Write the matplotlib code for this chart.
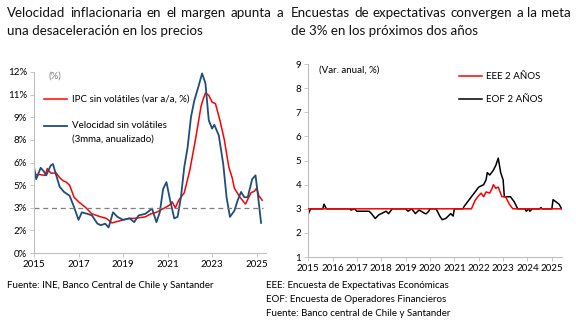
import matplotlib
matplotlib.use("Agg")
from matplotlib import pyplot as plt
import numpy as np

plt.rcParams['font.family'] = ['Lato', 'DejaVu Sans']

# ---- left panel data (decimal year, % in axis units)
ipc_x = [2015.0, 2015.25, 2015.5, 2015.6, 2015.75, 2016.0, 2016.15, 2016.3, 2016.45, 2016.6,
         2016.8, 2017.0, 2017.3, 2017.6, 2017.8, 2018.0, 2018.25, 2018.5, 2018.75, 2019.0,
         2019.25, 2019.5, 2019.75, 2020.0, 2020.25, 2020.5, 2020.75, 2021.0, 2021.1, 2021.2,
         2021.35, 2021.5, 2021.75, 2022.0, 2022.25, 2022.5, 2022.6, 2022.7, 2022.85, 2023.0,
         2023.15, 2023.35, 2023.55, 2023.75, 2023.9, 2024.0, 2024.25, 2024.5, 2024.75, 2024.9,
         2025.0, 2025.1, 2025.25]
ipc_y = [5.2, 5.2, 5.15, 5.6, 5.3, 5.3, 5.0, 4.8, 4.7, 4.5,
         3.7, 3.4, 3.05, 2.6, 2.5, 2.4, 2.3, 2.0, 2.1, 2.2,
         2.3, 2.3, 2.35, 2.4, 2.6, 2.7, 2.9, 3.1, 3.2, 3.4,
         3.0, 3.5, 4.0, 5.5, 7.5, 9.7, 10.2, 10.6, 10.45, 10.0,
         9.9, 8.8, 7.5, 5.7, 5.0, 4.3, 3.7, 3.25, 4.0, 4.1,
         4.3, 3.8, 3.5]

vel_x = [2015.0, 2015.1, 2015.3, 2015.45, 2015.55, 2015.75, 2015.85, 2016.0, 2016.15, 2016.35,
         2016.6, 2016.8, 2017.0, 2017.15, 2017.4, 2017.6, 2017.85, 2018.0, 2018.2, 2018.35,
         2018.55, 2018.75, 2019.0, 2019.3, 2019.5, 2019.7, 2020.0, 2020.3, 2020.5, 2020.65,
         2020.8, 2020.95, 2021.1, 2021.3, 2021.45, 2021.6, 2021.75, 2021.9, 2022.05, 2022.2,
         2022.4, 2022.55, 2022.7, 2022.85, 2023.0, 2023.1, 2023.3, 2023.5, 2023.65, 2023.8,
         2024.0, 2024.15, 2024.3, 2024.45, 2024.6, 2024.8, 2024.95, 2025.05, 2025.2]
vel_y = [5.7, 4.9, 5.65, 5.4, 5.15, 5.8, 5.9, 5.15, 4.4, 4.05,
         3.8, 3.05, 2.2, 2.7, 2.6, 2.5, 1.95, 1.85, 1.95, 1.7,
         2.7, 2.4, 2.2, 2.3, 2.05, 2.5, 2.6, 2.95, 2.05, 2.7,
         4.25, 4.7, 3.6, 2.3, 2.4, 3.7, 5.7, 7.0, 9.0, 10.1,
         11.1, 11.9, 11.25, 8.8, 8.25, 8.5, 7.8, 5.9, 3.7, 2.4,
         2.8, 3.5, 4.05, 3.7, 3.7, 4.9, 5.15, 3.95, 2.0]

left_yticks = [0, 1.5, 3, 4.5, 6, 7.5, 9, 10.5, 12]
left_ylabels = ['0%', '2%', '3%', '5%', '6%', '8%', '9%', '11%', '12%']
left_years = [2015, 2017, 2019, 2021, 2023, 2025]

# ---- right panel data (decimal year, %)
eof_x = [2015.0, 2015.1, 2015.6, 2015.65, 2015.75, 2016.7, 2016.75, 2016.9, 2017.0, 2017.5,
         2017.6, 2017.75, 2017.9, 2018.0, 2018.2, 2018.3, 2018.45, 2019.0, 2019.1, 2019.25,
         2019.4, 2019.55, 2019.8, 2019.85, 2019.95, 2020.0, 2020.25, 2020.4, 2020.5, 2020.65,
         2020.85, 2020.95, 2021.0, 2021.35, 2021.4, 2021.55, 2021.7, 2021.85, 2022.0, 2022.2,
         2022.3, 2022.35, 2022.45, 2022.6, 2022.7, 2022.8, 2022.9, 2023.0, 2023.05, 2023.3,
         2023.45, 2023.6, 2023.9, 2023.95, 2024.05, 2024.1, 2024.2, 2024.5, 2024.55, 2024.6,
         2025.0, 2025.05, 2025.3, 2025.4]
eof_y = [2.77, 3.0, 3.0, 3.19, 3.0, 3.0, 2.95, 3.0, 2.9, 2.9,
         2.8, 2.6, 2.75, 2.8, 2.9, 2.8, 3.0, 3.0, 2.9, 3.0,
         2.8, 2.95, 2.8, 2.8, 2.9, 3.0, 3.0, 2.7, 2.55, 2.6,
         2.8, 2.7, 3.0, 3.0, 3.1, 3.3, 3.5, 3.7, 3.9, 4.0,
         4.2, 4.5, 4.4, 4.6, 4.8, 5.1, 4.5, 4.2, 3.5, 3.5,
         3.3, 3.0, 3.0, 2.9, 3.0, 2.9, 3.0, 3.0, 3.05, 3.0,
         3.0, 3.38, 3.19, 3.0]

eee_x = [2015.0, 2021.7, 2021.85, 2022.0, 2022.1, 2022.2, 2022.3, 2022.45, 2022.55, 2022.6,
         2022.7, 2022.8, 2022.95, 2023.1, 2023.25, 2023.4, 2025.4]
eee_y = [3.0, 3.0, 3.35, 3.55, 3.65, 3.5, 3.7, 3.65, 3.85, 4.0,
         3.85, 3.9, 3.5, 3.5, 3.2, 3.0, 3.0]

right_years = list(range(2015, 2026))

W, H = 576, 330
fig = plt.figure(figsize=(W / 100, H / 100), dpi=100)
renderer = fig.canvas.get_renderer()

def style(ax):
    for s in ['top', 'right']:
        ax.spines[s].set_visible(False)
    for s in ['left', 'bottom']:
        ax.spines[s].set_color('#bfbfbf')
        ax.spines[s].set_linewidth(0.8)
    ax.tick_params(axis='both', colors='#bfbfbf', labelcolor='black', labelsize=7, length=3, width=0.6, pad=2)

# justified line of words between x0 and x1 (pixels)
def justified(line, x0, x1, y, size):
    words = line.split()
    texts = [fig.text(0, 1 - y / H, w, fontsize=size, va='center', ha='left', color='#111111')
             for w in words]
    widths = [t.get_window_extent(renderer).width for t in texts]
    gap = (x1 - x0 - sum(widths)) / (len(words) - 1)
    x = x0
    for t, w in zip(texts, widths):
        t.set_x(x / W)
        x += w + gap

# left chart
ax1 = fig.add_axes([0.059, 0.233, 0.402, 0.549])
ax1.plot(ipc_x, ipc_y, color='#ff0000', lw=1.1)
ax1.plot(vel_x, vel_y, color='#1f4e79', lw=1.3)
ax1.plot([2015, 2025.3], [3, 3], color='#7f7f7f', lw=0.9, ls=(0, (4, 3)))
ax1.set_xlim(2015, 2025.4)
ax1.set_ylim(0, 12)
ax1.set_yticks(left_yticks)
ax1.set_yticklabels(left_ylabels)
ax1.set_xticks(left_years)
ax1.set_xticklabels([str(y) for y in left_years])
style(ax1)
ax1.text(2015.63, 11.7, '(%)', fontsize=7, color='#7f7f7f', va='center')
ax1.plot([2015.45, 2016.5], [10.2, 10.2], color='#ff0000', lw=1.1)
ax1.text(2016.7, 10.2, 'IPC sin volátiles (var a/a, %)', fontsize=7, va='center')
ax1.plot([2015.45, 2016.5], [8.45, 8.45], color='#1f4e79', lw=1.3)
ax1.text(2016.7, 8.45, 'Velocidad sin volátiles', fontsize=7, va='center')
ax1.text(2016.7, 7.55, '(3mma, anualizado)', fontsize=7, va='center')

# right chart
ax2 = fig.add_axes([0.535, 0.221, 0.44, 0.585])
ax2.plot(eee_x, eee_y, color='#ff0000', lw=1.1, zorder=3)
ax2.plot(eof_x, eof_y, color='black', lw=1.1, zorder=2)
ax2.set_xlim(2015, 2025.4)
ax2.set_ylim(1, 9)
ax2.set_yticks(range(1, 10))
ax2.set_xticks(right_years)
ax2.set_xticklabels([str(y) for y in right_years])
style(ax2)
ax2.text(2015.45, 8.75, '(Var. anual, %)', fontsize=7, va='center')
ax2.plot([2021.2, 2022.15], [8.5, 8.5], color='#ff0000', lw=1.1)
ax2.text(2022.3, 8.5, 'EEE 2 AÑOS', fontsize=7, va='center')
ax2.plot([2021.2, 2022.15], [7.53, 7.53], color='black', lw=1.1)
ax2.text(2022.3, 7.53, 'EOF 2 AÑOS', fontsize=7, va='center')

# titles
tsize = 9.6
justified('Velocidad inflacionaria en el margen apunta a', 7, 283, 13, tsize)
fig.text(7 / W, 1 - 31 / H, 'una desaceleración en los precios', fontsize=tsize,
         va='center', ha='left', color='#111111')
justified('Encuestas de expectativas convergen a la meta', 291, 571, 13, tsize)
fig.text(291 / W, 1 - 31 / H, 'de 3% en los próximos dos años', fontsize=tsize,
         va='center', ha='left', color='#111111')

# footnotes
fig.text(7 / W, 1 - 286 / H, 'Fuente: INE, Banco Central de Chile y Santander', fontsize=7, va='center')
fig.text(266 / W, 1 - 286 / H, 'EEE: Encuesta de Expectativas Económicas', fontsize=7, va='center')
fig.text(266 / W, 1 - 300 / H, 'EOF: Encuesta de Operadores Financieros', fontsize=7, va='center')
fig.text(266 / W, 1 - 314 / H, 'Fuente: Banco central de Chile y Santander', fontsize=7, va='center')

fig.savefig('out.png', dpi=100)
